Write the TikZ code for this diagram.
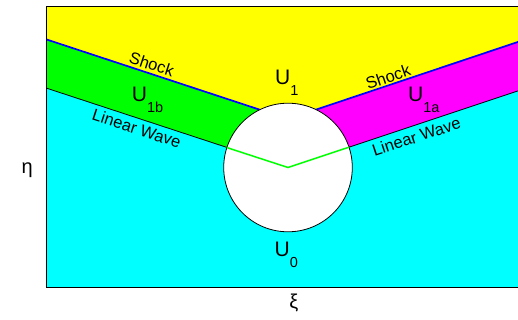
\documentclass[tikz,border=0pt]{standalone}
\usepackage{fontspec}
\setmainfont{Liberation Sans}
\usetikzlibrary{calc}
\definecolor{stateyellow}{HTML}{FFFF00}
\definecolor{stategreen}{HTML}{00FF00}
\definecolor{statemagenta}{HTML}{FF00FF}
\definecolor{statecyan}{HTML}{00FFFF}
\definecolor{shockblue}{HTML}{0000FF}
\newcommand{\lowsub}[1]{\raisebox{-11pt}{\fontsize{14.5}{15}\selectfont #1}}
\tikzset{
  region/.style={fill=#1, draw=none},
  region/.default=statecyan,
  shockline/.style={draw=shockblue, line width=1.7pt},
  waveline/.style={draw=#1, line width=0.8pt},
  waveline/.default=black,
  statelabel/.style={
    font=\fontsize{21}{21}\selectfont, inner sep=0pt, anchor=base west
  },
  linelabel/.style={
    font=\fontsize{16.5}{17}\selectfont, inner sep=0pt
  },
  axislabel/.style={
    font=\fontsize{20}{20}\selectfont, inner sep=0pt, anchor=base
  },
}

\begin{document}
\begin{tikzpicture}[x=1pt, y=-1pt]
  \useasboundingbox (0,0) rectangle (518,320);

  % Frame and body
  \coordinate (tl) at (46,6.5);
  \coordinate (tr) at (530,6.5);
  \coordinate (bl) at (46,287.7);
  \coordinate (br) at (530,287.7);
  \coordinate (c) at (288,167.5);
  \coordinate (apex) at (288,119);

  % Ends of the shocks and the linear waves
  \coordinate (shockL) at (46,39.3);
  \coordinate (shockR) at (530,37.9);
  \coordinate (waveL) at (46,88);
  \coordinate (waveR) at (530,86.9);

  % States
  \begin{scope}
    \clip (tl) rectangle (br);
    \fill[region=statecyan] (tl) rectangle (br);
    \fill[region=stateyellow] (tl) -- (tr) -- (shockR) -- (apex) -- (shockL) -- cycle;
    \fill[region=stategreen] (shockL) -- (apex) -- (c) -- (waveL) -- cycle;
    \fill[region=statemagenta] (shockR) -- (apex) -- (c) -- (waveR) -- cycle;
    \draw[shockline] (shockL) -- (apex) -- (shockR);
    \draw[waveline] (waveL) -- (c) -- (waveR);
  \end{scope}

  % Body and green wave inside it
  \draw[fill=white, line width=0.8pt] (c) circle (64.3);
  \coordinate (inL) at ($(c)+(198.05:64.3)$);
  \coordinate (inR) at ($(c)+(341.6:64.3)$);
  \draw[waveline=stategreen, line width=1.5pt] (inL) -- (c) -- (inR);

  % Axes box
  \draw[line width=0.8pt] (tr) -- (tl) -- (bl) -- (br);

  % Labels
  \node[linelabel, rotate=-18.2] (shocklabL) at (151.7,64.2) {Shock};
  \node[linelabel, rotate=-18.1] (wavelabL) at (136.7,128.5) {Linear Wave};
  \node[linelabel, rotate=18.5] (shocklabR) at (388,77) {Shock};
  \node[linelabel, rotate=18.4] (wavelabR) at (416.3,136.7) {Linear Wave};
  \node[statelabel] (u1b) at (131.7,101.7) {U\lowsub{1b}};
  \node[statelabel] (u1) at (275,85) {U\lowsub{1}};
  \node[statelabel] (u1a) at (408,101.7) {U\lowsub{1a}};
  \node[statelabel] (u0) at (274.5,256.7) {U\lowsub{0}};
  \node[axislabel] (eta) at (27.2,174) {η};
  \node[axislabel] (xi) at (293.8,308) {ξ};
\end{tikzpicture}
\end{document}
